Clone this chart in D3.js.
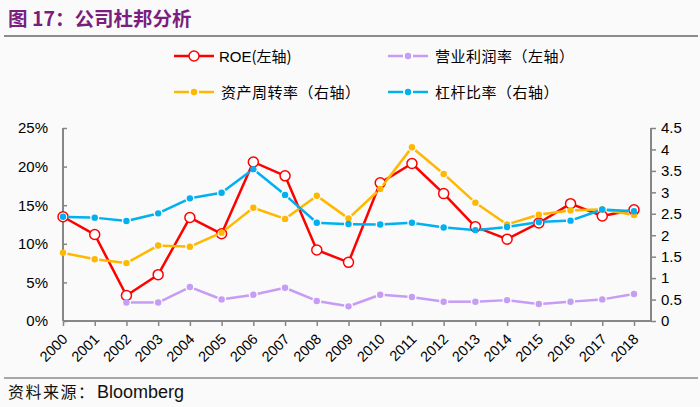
<!DOCTYPE html>
<html>
<head>
<meta charset="utf-8">
<script src="https://cdn.jsdelivr.net/npm/d3@7/dist/d3.min.js"></script>
<style>
  html, body { margin: 0; padding: 0; background: #fafafa; }
  svg { display: block; }
</style>
</head>
<body>
<svg id="chart" width="700" height="407"></svg>
<script>
// ---------- data ----------
const years = ["2000","2001","2002","2003","2004","2005","2006","2007","2008","2009",
               "2010","2011","2012","2013","2014","2015","2016","2017","2018"];
const roe = [13.5, 11.2, 3.3, 6.0, 13.4, 11.3, 20.6, 18.8, 9.2, 7.6,
             17.9, 20.4, 16.5, 12.2, 10.6, 12.7, 15.2, 13.6, 14.4];
const opMargin = [null, null, 2.4, 2.4, 4.4, 2.8, 3.4, 4.3, 2.6, 1.9,
                  3.4, 3.1, 2.5, 2.5, 2.7, 2.2, 2.5, 2.8, 3.5];
const assetTurnover = [1.59, 1.44, 1.35, 1.76, 1.73, 2.06, 2.64, 2.38, 2.92, 2.39,
                       3.08, 4.05, 3.43, 2.76, 2.25, 2.48, 2.58, 2.60, 2.47];
const leverage = [2.43, 2.41, 2.33, 2.51, 2.86, 2.99, 3.54, 2.94, 2.29, 2.26,
                  2.25, 2.29, 2.18, 2.12, 2.19, 2.31, 2.34, 2.60, 2.56];
const leftTicks = [0, 5, 10, 15, 20, 25];
const rightTicks = [0, 0.5, 1, 1.5, 2, 2.5, 3, 3.5, 4, 4.5];
const titleText = "图 17：公司杜邦分析";
const sourceText = "资料来源：";
const sourceName = "Bloomberg";
const legendItems = [
  {label: "ROE", suffix: "(左轴)", key: "roe"},
  {label: "", suffix: "营业利润率（左轴）", key: "margin"},
  {label: "", suffix: "资产周转率（右轴）", key: "turnover"},
  {label: "", suffix: "杠杆比率（右轴）", key: "leverage"}
];

// ---------- layout ----------
const svg = d3.select("#chart");
const W = 700, H = 407;
const plotLeft = 63, plotRight = 651, lastX = 634, yTop = 128, yBottom = 321;
const axisColor = "#868686";
const CJK = "'Noto Sans CJK SC', 'Noto Sans', sans-serif";
const LAT = "'Liberation Sans', Arial, sans-serif";
const colors = {roe: "#ff0000", margin: "#c69cf4", turnover: "#ffb800", leverage: "#00b0f0"};

svg.append("rect").attr("width", W).attr("height", H).attr("fill", "#fafafa");

// Title
svg.append("text").attr("x", 8).attr("y", 26)
  .attr("font-family", CJK).attr("font-weight", "bold").attr("font-size", 19.5)
  .attr("fill", "#7a1f7f").text(titleText);
svg.append("line").attr("x1", 4).attr("x2", 698).attr("y1", 36).attr("y2", 36)
  .attr("stroke", "#8c8c8c").attr("stroke-width", 2);

// Footer
svg.append("line").attr("x1", 4).attr("x2", 698).attr("y1", 378).attr("y2", 378)
  .attr("stroke", "#555").attr("stroke-width", 1);
const foot = svg.append("text").attr("x", 8).attr("y", 398).attr("fill", "#111");
foot.append("tspan").attr("font-family", CJK).attr("font-size", 16)
  .attr("letter-spacing", 1.5).text(sourceText);
foot.append("tspan").attr("x", 97).attr("font-family", LAT).attr("font-size", 18).text(sourceName);

// Scales
const x = d3.scalePoint().domain(years).range([plotLeft, lastX]);
const yL = d3.scaleLinear().domain([0, 25]).range([yBottom, yTop]);
const yR = d3.scaleLinear().domain([0, 4.5]).range([yBottom, yTop]);

// Left axis
const gL = svg.append("g").attr("transform", `translate(${plotLeft},0)`)
  .call(d3.axisRight(yL).tickValues(leftTicks).tickSize(4).tickFormat(d => d + "%"));
gL.select(".domain").remove();
gL.selectAll(".tick line").attr("stroke", axisColor).attr("stroke-width", 1.5);
gL.selectAll(".tick text").attr("x", -15).attr("text-anchor", "end")
  .attr("font-family", LAT).attr("font-size", 15).attr("fill", "#000");
svg.append("line").attr("x1", plotLeft).attr("x2", plotLeft).attr("y1", yTop).attr("y2", yBottom)
  .attr("stroke", axisColor).attr("stroke-width", 2);

// Right axis
const gR = svg.append("g").attr("transform", `translate(${plotRight},0)`)
  .call(d3.axisRight(yR).tickValues(rightTicks).tickSize(5).tickFormat(d3.format("")));
gR.select(".domain").remove();
gR.selectAll(".tick line").attr("stroke", axisColor).attr("stroke-width", 1.5);
gR.selectAll(".tick text").attr("x", 10).attr("font-family", LAT).attr("font-size", 15).attr("fill", "#000");
svg.append("line").attr("x1", plotRight).attr("x2", plotRight).attr("y1", yTop).attr("y2", yBottom)
  .attr("stroke", axisColor).attr("stroke-width", 2);

// Bottom axis
const gB = svg.append("g").attr("transform", `translate(0,${yBottom})`)
  .call(d3.axisBottom(x).tickSize(5));
gB.select(".domain").remove();
gB.selectAll(".tick line").attr("stroke", axisColor).attr("stroke-width", 1.5);
gB.selectAll(".tick text")
  .attr("font-family", LAT).attr("font-size", 14.5).attr("fill", "#000")
  .attr("text-anchor", "end").attr("dy", null).attr("y", 0)
  .attr("transform", "translate(5,19) rotate(-45)");
svg.append("line").attr("x1", plotLeft).attr("x2", plotRight).attr("y1", yBottom).attr("y2", yBottom)
  .attr("stroke", axisColor).attr("stroke-width", 2);

// ---------- series ----------
function points(vals, scale) {
  return vals.map((v, i) => v == null ? null : [x(years[i]), scale(v)]);
}
function dashedSeries(vals, scale, color) {
  const pts = points(vals, scale);
  const g = svg.append("g");
  const gap = 4.5;
  for (let i = 0; i < pts.length - 1; i++) {
    const a = pts[i], b = pts[i + 1];
    if (!a || !b) continue;
    const dx = b[0] - a[0], dy = b[1] - a[1];
    const L = Math.hypot(dx, dy);
    const ux = dx / L, uy = dy / L;
    g.append("line")
      .attr("x1", a[0] + ux * gap).attr("y1", a[1] + uy * gap)
      .attr("x2", b[0] - ux * gap).attr("y2", b[1] - uy * gap)
      .attr("stroke", color).attr("stroke-width", 2.5);
  }
  g.selectAll("circle").data(pts.filter(p => p)).join("circle")
    .attr("cx", d => d[0]).attr("cy", d => d[1]).attr("r", 3.2).attr("fill", color);
}

// ROE (solid with hollow circles) - drawn first
const roePts = points(roe, yL);
svg.append("path").datum(roePts)
  .attr("d", d3.line().defined(d => d)(roePts))
  .attr("fill", "none").attr("stroke", colors.roe).attr("stroke-width", 2.5)
  .attr("stroke-linejoin", "round");
svg.append("g").selectAll("circle").data(roePts).join("circle")
  .attr("cx", d => d[0]).attr("cy", d => d[1]).attr("r", 5)
  .attr("fill", "#fff").attr("stroke", colors.roe).attr("stroke-width", 1.5);

dashedSeries(opMargin, yL, colors.margin);
dashedSeries(assetTurnover, yR, colors.turnover);
dashedSeries(leverage, yR, colors.leverage);

// ---------- legend ----------
const legendPos = [
  {x: 174, y: 56}, {x: 388, y: 56}, {x: 174, y: 92}, {x: 388, y: 92}
];
legendItems.forEach((it, i) => {
  const p = legendPos[i];
  const c = colors[it.key];
  const g = svg.append("g");
  if (it.key === "roe") {
    g.append("line").attr("x1", p.x).attr("x2", p.x + 40).attr("y1", p.y).attr("y2", p.y)
      .attr("stroke", c).attr("stroke-width", 2.5);
    g.append("circle").attr("cx", p.x + 20).attr("cy", p.y).attr("r", 5)
      .attr("fill", "#fff").attr("stroke", c).attr("stroke-width", 1.5);
  } else {
    g.append("line").attr("x1", p.x).attr("x2", p.x + 15).attr("y1", p.y).attr("y2", p.y)
      .attr("stroke", c).attr("stroke-width", 2.5);
    g.append("line").attr("x1", p.x + 25).attr("x2", p.x + 40).attr("y1", p.y).attr("y2", p.y)
      .attr("stroke", c).attr("stroke-width", 2.5);
    g.append("circle").attr("cx", p.x + 20).attr("cy", p.y).attr("r", 3.2).attr("fill", c);
  }
  const t = g.append("text").attr("x", p.x + (it.key === "roe" ? 45 : 47)).attr("y", p.y + 5.5)
    .attr("fill", "#000").attr("letter-spacing", it.key === "roe" ? 0 : 0.5);
  if (it.label) t.append("tspan").attr("font-family", LAT).attr("font-size", 15).text(it.label);
  t.append("tspan").attr("font-family", CJK).attr("font-size", 15).text(it.suffix);
});
</script>
</body>
</html>
